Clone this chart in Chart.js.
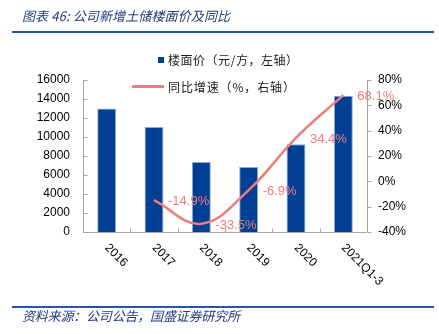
<!DOCTYPE html>
<html>
<head>
<meta charset="utf-8">
<script src="https://cdn.jsdelivr.net/npm/chart.js@4.4.1/dist/chart.umd.min.js"></script>
<style>
  html, body { margin: 0; padding: 0; background: #fff; }
  #wrap { position: relative; width: 439px; height: 334px; overflow: hidden; }
  #c { position: absolute; left: 0; top: 0; }
  .title { position: absolute; left: 22px; top: 7px; font: italic 13px "Noto Sans CJK SC", sans-serif; color: #233B7A; white-space: nowrap; line-height: 18px; }
  .rule { position: absolute; left: 12px; width: 422px; height: 2px; background: #2256A8; }
  .source { position: absolute; left: 22px; top: 307px; font: italic 13px "Noto Sans CJK SC", sans-serif; color: #233B7A; white-space: nowrap; line-height: 18px; }
  .leg { position: absolute; font: 12px "Noto Sans CJK SC", sans-serif; color: #1a1a1a; white-space: nowrap; line-height: 16px; }
</style>
</head>
<body>
<div id="wrap">
  <canvas id="c" width="439" height="334"></canvas>
  <div class="title" id="t1" data-w="208">图表 46:&nbsp;公司新增土储楼面价及同比</div>
  <div class="rule" style="top:31px"></div>
  <div class="rule" style="top:306px"></div>
  <div class="source" id="t2" data-w="218">资料来源：公司公告，国盛证券研究所</div>
  <div style="position:absolute;left:158px;top:57px;width:6px;height:6px;background:#003F94"></div>
  <div class="leg" id="t3" data-w="130" style="left:168px;top:52px">楼面价（元/方，左轴）</div>
  <div style="position:absolute;left:132px;top:85px;width:32px;height:3px;background:#F17C7C"></div>
  <div class="leg" id="t4" data-w="127" style="left:168px;top:79px">同比增速（%，右轴）</div>
</div>
<script>
// ---- data ----
const categories = ['2016', '2017', '2018', '2019', '2020', '2021Q1-3'];
const floorPrice = [13000, 11050, 7370, 6840, 9230, 14350];      // 元/方, left axis
const yoyGrowth = [null, -14.9, -33.5, -6.9, 34.4, 68.1];          // %, right axis
const yoyLabels = ['', '-14.9%', '-33.5%', '-6.9%', '34.4%', '68.1%'];
const leftTickValues = [0, 2000, 4000, 6000, 8000, 10000, 12000, 14000, 16000];
const rightTickValues = [-40, -20, 0, 20, 40, 60, 80];

const AXIS = '#A6A6A6';
const LINE = '#F17C7C';

function fitTexts() {
  ['t1', 't2', 't3', 't4'].forEach(id => {
    const el = document.getElementById(id);
    const target = parseFloat(el.dataset.w);
    el.style.letterSpacing = '0px';
    const w = el.getBoundingClientRect().width;
    const n = Math.max(1, el.textContent.length - 1);
    el.style.letterSpacing = ((target - w) / n).toFixed(2) + 'px';
  });
}
fitTexts();
if (document.fonts && document.fonts.ready) document.fonts.ready.then(fitTexts);

const customDraw = {
  id: 'customDraw',
  afterDraw(chart) {
    const ctx = chart.ctx;
    const a = chart.chartArea;
    const x = chart.scales.x, y = chart.scales.y, y1 = chart.scales.y1;
    ctx.save();
    ctx.strokeStyle = AXIS;
    ctx.lineWidth = 1;
    ctx.beginPath();
    const lx = Math.round(a.left) + 0.5;
    ctx.moveTo(lx, a.top); ctx.lineTo(lx, a.bottom);
    leftTickValues.forEach(v => { const py = Math.round(y.getPixelForValue(v)) + 0.5; ctx.moveTo(lx, py); ctx.lineTo(lx + 4, py); });
    const rx = Math.round(a.right) + 0.5;
    ctx.moveTo(rx, a.top); ctx.lineTo(rx, a.bottom);
    rightTickValues.forEach(v => { const py = Math.round(y1.getPixelForValue(v)) + 0.5; ctx.moveTo(rx, py); ctx.lineTo(rx + 4, py); });
    const by = Math.round(a.bottom) + 0.5;
    ctx.moveTo(a.left, by); ctx.lineTo(a.right, by);
    const cw = (a.right - a.left) / categories.length;
    for (let i = 1; i < categories.length; i++) {
      const px = Math.round(a.left + i * cw) + 0.5;
      ctx.moveTo(px, by); ctx.lineTo(px, by - 4);
    }
    ctx.stroke();
    ctx.fillStyle = '#000';
    ctx.font = '12px "Liberation Sans", Arial, sans-serif';
    ctx.textAlign = 'left';
    ctx.textBaseline = 'middle';
    categories.forEach((c, i) => {
      const px = x.getPixelForValue(i);
      ctx.save();
      ctx.translate(px, a.bottom + 14);
      ctx.rotate(Math.PI / 4);
      ctx.fillText(c, 0, 0);
      ctx.restore();
    });
    const meta = chart.getDatasetMeta(1);
    ctx.fillStyle = LINE;
    ctx.font = '13px "Liberation Sans", Arial, sans-serif';
    meta.data.forEach((pt, i) => {
      if (yoyGrowth[i] === null) return;
      ctx.fillText(yoyLabels[i], pt.x + 14, pt.y + 1.5);
    });
    ctx.restore();
  }
};

new Chart(document.getElementById('c'), {
  data: {
    labels: categories,
    datasets: [
      {
        type: 'bar',
        label: '楼面价（元/方，左轴）',
        data: floorPrice,
        yAxisID: 'y',
        backgroundColor: '#003F94',
        borderColor: '#8FA8D6',
        borderWidth: 1,
        barPercentage: 0.4,
        categoryPercentage: 1.0,
        order: 2
      },
      {
        type: 'line',
        label: '同比增速（%，右轴）',
        data: yoyGrowth,
        yAxisID: 'y1',
        borderColor: LINE,
        borderWidth: 2.5,
        pointRadius: 0,
        tension: 0.4,
        fill: false,
        order: 1
      }
    ]
  },
  options: {
    responsive: false,
    animation: false,
    layout: { padding: { top: 80, left: 0, right: 0, bottom: 0 } },
    plugins: { legend: { display: false }, tooltip: { enabled: false } },
    scales: {
      x: {
        offset: true,
        grid: { display: false, drawTicks: false },
        border: { display: false },
        ticks: { display: false },
        afterFit: s => { s.height = 102; }
      },
      y: {
        position: 'left',
        min: 0, max: 16000,
        afterBuildTicks: s => { s.ticks = leftTickValues.map(v => ({ value: v })); },
        ticks: { padding: 13, color: '#000', callback: v => String(v), font: { family: '"Liberation Sans", Arial, sans-serif', size: 12 } },
        grid: { display: false, drawTicks: false },
        border: { display: false },
        afterFit: s => { s.width = 83; }
      },
      y1: {
        position: 'right',
        min: -40, max: 80,
        afterBuildTicks: s => { s.ticks = rightTickValues.map(v => ({ value: v })); },
        ticks: { padding: 11, color: '#000', callback: v => v + '%', font: { family: '"Liberation Sans", Arial, sans-serif', size: 12 } },
        grid: { display: false, drawTicks: false },
        border: { display: false },
        afterFit: s => { s.width = 72; }
      }
    }
  },
  plugins: [customDraw]
});
</script>
</body>
</html>
